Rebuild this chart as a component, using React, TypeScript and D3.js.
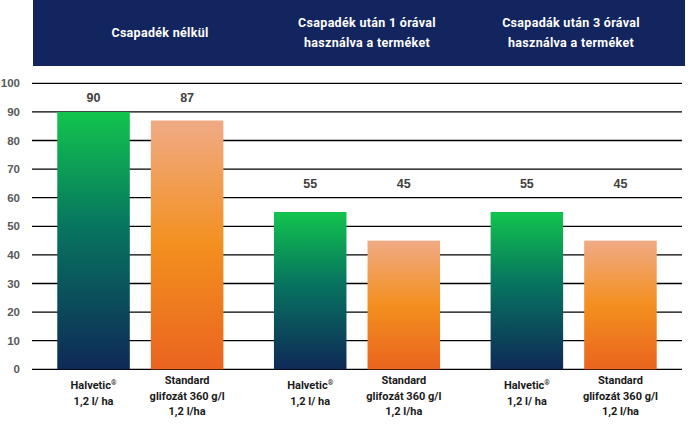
import * as d3 from "d3";
import { useEffect, useRef } from "react";

const GROUPS = ["Csapadék nélkül", "Csapadék után 1 órával", "Csapadák után 3 órával"];
const HEADER_LINES = [
  ["Csapadék nélkül"],
  ["Csapadék után 1 órával", "használva a terméket"],
  ["Csapadák után 3 órával", "használva a terméket"],
];
const PRODUCTS = ["halvetic", "standard"];
const PRODUCT_LABELS = [
  ["Halvetic®", "1,2 l/ ha"],
  ["Standard", "glifozát 360 g/l", "1,2 l/ha"],
];
const HALVETIC = [90, 55, 55];
const STANDARD = [87, 45, 45];
// value-label height (in axis units) used by the source chart
const LABEL_AT = [95, 65, 65];
const TICKS = [0, 10, 20, 30, 40, 50, 60, 70, 80, 90, 100];

const W = 697;
const H = 436;

export default function App() {
  const ref = useRef<SVGSVGElement | null>(null);

  useEffect(() => {
    const svg = d3.select(ref.current);
    svg.selectAll("*").remove();
    svg.attr("width", W).attr("height", H).attr("viewBox", `0 0 ${W} ${H}`);

    const left = 32;
    const right = 682;
    const y = d3.scaleLinear().domain([0, 100]).range([369.3, 83.3]);
    const x0 = d3.scaleBand<string>().domain(GROUPS).range([left, right]).padding(0);
    const x1 = d3
      .scaleBand<string>()
      .domain(PRODUCTS)
      .range([0, x0.bandwidth()])
      .paddingInner(0.225)
      .paddingOuter(0.27);

    const defs = svg.append("defs");
    const green = defs
      .append("linearGradient")
      .attr("id", "gGreen")
      .attr("x1", 0)
      .attr("y1", 0)
      .attr("x2", 0)
      .attr("y2", 1);
    green.append("stop").attr("offset", "0%").attr("stop-color", "#12c44e");
    green.append("stop").attr("offset", "45%").attr("stop-color", "#07745f");
    green.append("stop").attr("offset", "100%").attr("stop-color", "#0f2957");
    const orange = defs
      .append("linearGradient")
      .attr("id", "gOrange")
      .attr("x1", 0)
      .attr("y1", 0)
      .attr("x2", 0)
      .attr("y2", 1);
    orange.append("stop").attr("offset", "0%").attr("stop-color", "#f0aa85");
    orange.append("stop").attr("offset", "50%").attr("stop-color", "#f3901f");
    orange.append("stop").attr("offset", "100%").attr("stop-color", "#ea641f");

    // header band
    svg
      .append("rect")
      .attr("x", 33)
      .attr("y", 0)
      .attr("width", 652)
      .attr("height", 66)
      .attr("fill", "#13255f");

    const headerX = [160, 367, 571];
    HEADER_LINES.forEach((lines, i) => {
      const t = svg
        .append("text")
        .attr("x", headerX[i])
        .attr("text-anchor", "middle")
        .attr("fill", "#ffffff")
        .attr("font-family", "Roboto, sans-serif")
        .attr("font-weight", 700)
        .attr("font-size", 12.5)
        .attr("letter-spacing", 0.3);
      const startY = lines.length === 1 ? 37 : 27;
      lines.forEach((l, j) => {
        t.append("tspan").attr("x", headerX[i]).attr("y", startY + j * 20).text(l);
      });
    });

    // gridlines + y ticks
    TICKS.forEach((tk) => {
      svg
        .append("line")
        .attr("x1", left)
        .attr("x2", right)
        .attr("y1", y(tk))
        .attr("y2", y(tk))
        .attr("stroke", "#000")
        .attr("stroke-width", 1.3);
      svg
        .append("text")
        .attr("x", 20)
        .attr("y", y(tk))
        .attr("dy", "0.35em")
        .attr("text-anchor", "end")
        .attr("fill", "#595959")
        .attr("font-family", "Liberation Sans, Arial, sans-serif")
        .attr("font-weight", 700)
        .attr("font-size", 11.5)
        .text(tk);
    });

    const rows = GROUPS.map((g, i) => ({
      group: g,
      values: [HALVETIC[i], STANDARD[i]],
      labelAt: LABEL_AT[i],
    }));

    const gs = svg
      .selectAll("g.grp")
      .data(rows)
      .enter()
      .append("g")
      .attr("class", "grp")
      .attr("transform", (d) => `translate(${x0(d.group)},0)`);

    gs.each(function (row) {
      const g = d3.select(this);
      PRODUCTS.forEach((p, j) => {
        const v = row.values[j];
        const bx = x1(p)!;
        const cx = bx + x1.bandwidth() / 2;
        g.append("rect")
          .attr("x", bx)
          .attr("y", y(v))
          .attr("width", x1.bandwidth())
          .attr("height", y(0) - y(v))
          .attr("fill", j === 0 ? "url(#gGreen)" : "url(#gOrange)");
        g.append("text")
          .attr("x", cx)
          .attr("y", y(row.labelAt))
          .attr("dy", "0.35em")
          .attr("text-anchor", "middle")
          .attr("fill", "#404040")
          .attr("font-family", "Liberation Sans, Arial, sans-serif")
          .attr("font-weight", 700)
          .attr("font-size", 12.5)
          .text(v);
        const lines = PRODUCT_LABELS[j];
        const t = g
          .append("text")
          .attr("text-anchor", "middle")
          .attr("fill", "#1a1a1a")
          .attr("font-family", "Roboto, sans-serif")
          .attr("font-weight", 700)
          .attr("font-size", 11);
        const startY = lines.length === 2 ? 389 : 384;
        lines.forEach((l, k) => {
          const line = t.append("tspan").attr("x", cx).attr("y", startY + k * 15.5);
          if (l.endsWith("®")) {
            line.append("tspan").text(l.slice(0, -1));
            line
              .append("tspan")
              .attr("font-size", 7)
              .attr("dy", -4)
              .text("®");
          } else {
            line.text(l);
          }
        });
      });
    });
  }, []);

  return <svg ref={ref} style={{ display: "block", position: "absolute", left: 0, top: 0 }} />;
}
